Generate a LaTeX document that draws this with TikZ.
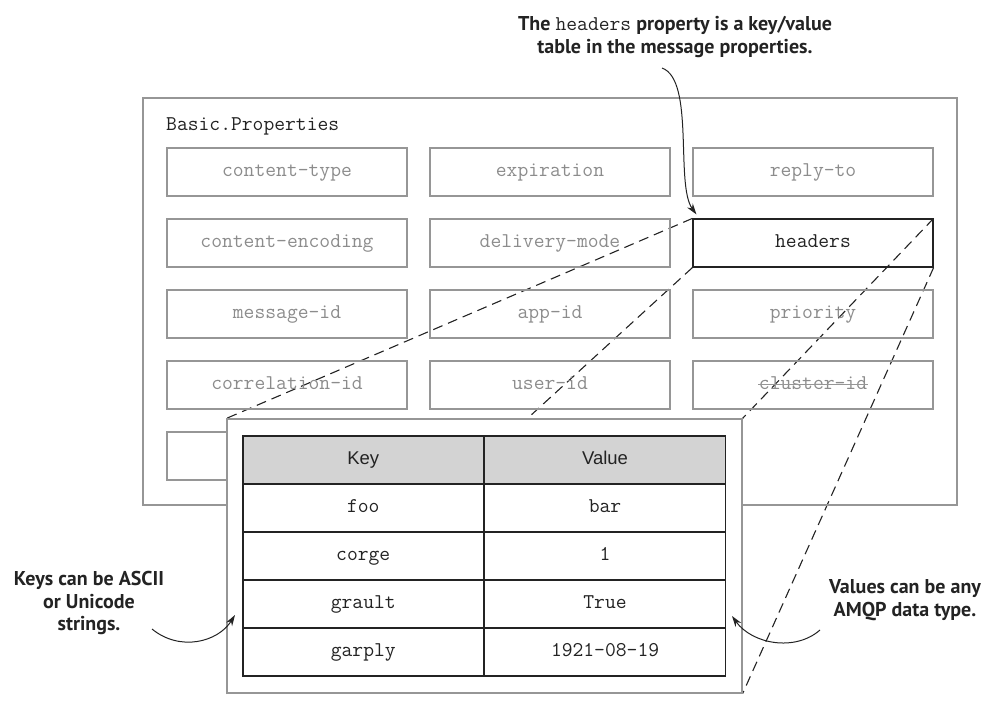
\documentclass[tikz,border=0pt]{standalone}
\usepackage{fontspec}
\usepackage{tikz}
\usepackage{xcolor}
\usetikzlibrary{arrows.meta,backgrounds}
\setmainfont{PT Sans}
\newfontfamily\tablesans{Liberation Sans}
\definecolor{boxgray}{RGB}{150,150,150}
\definecolor{textgray}{RGB}{140,140,140}
\definecolor{headfill}{RGB}{211,211,211}
\definecolor{ink}{RGB}{35,35,35}

\begin{document}
\begin{tikzpicture}[x=1pt,y=-1pt,
  prop/.style={draw=boxgray, line width=1.2pt, minimum width=240pt, minimum height=48pt, inner sep=0pt,
    text height=13pt, text depth=4pt, font=\fontsize{21}{22}\selectfont\ttfamily, text=textgray},
  propon/.style={prop, draw=ink, text=ink},
  cellbox/.style={draw=ink, line width=1.3pt, minimum width=240.5pt, minimum height=48pt, inner sep=0pt,
    text height=13pt, text depth=4pt, font=\fontsize{21}{22}\selectfont\ttfamily, text=ink},
  headbox/.style={cellbox, fill=headfill, font=\fontsize{18.5}{20}\selectfont\tablesans},
  note/.style={font=\fontsize{20}{22.5}\selectfont\bfseries, text=ink, align=center},
  notearrow/.style={draw=ink, line width=1pt, -{Stealth[length=11pt,width=7pt]}},
  zoomline/.style={draw=ink, line width=1.1pt, dash pattern=on 10pt off 6pt}]

  \useasboundingbox (0,0) rectangle (1006,706);

  \node[draw=boxgray, line width=1.2pt, minimum width=814pt, minimum height=407pt, inner sep=0pt] (basic) at (550,301.5) {};
  \node[anchor=base west, font=\fontsize{21}{22}\selectfont\ttfamily, text=ink, inner sep=0pt] (title) at (166,131) {Basic.Properties};

  \foreach \row/\col/\txt in {1/1/content-type, 1/2/expiration, 1/3/reply-to,
    2/1/content-encoding, 2/2/delivery-mode,
    3/1/message-id, 3/2/app-id, 3/3/priority,
    4/1/correlation-id, 4/2/user-id, 4/3/{}}{
  \node[prop] (p\row\col) at ({287+263*(\col-1)},{172+71*(\row-1)}) {\txt}; }
  \node[propon] (p23) at (813,243) {headers};
  \node[prop] (p51) at (287,456) {};
  % struck out property
  \node[prop, draw=none, minimum width=0pt, minimum height=0pt] (gone) at (p43) {cluster-id};
  \draw[boxgray, line width=1.2pt] ([yshift=5pt]gone.base west) -- ([yshift=5pt]gone.base east);

  % zoomed headers table
  \node[draw=boxgray, fill=white, line width=1.2pt, minimum width=515pt, minimum height=274pt, inner sep=0pt] (zoom) at (484.5,556) {};
  \node[headbox] (k0) at (363.25,460) {Key};
  \node[headbox, anchor=west] (v0) at (k0.east) {Value};
  \foreach \r/\k/\v in {1/foo/bar, 2/corge/1, 3/grault/True, 4/garply/1921-08-19}{
  \node[cellbox] (k\r) at (363.25,{460+48*\r}) {\k};
  \node[cellbox, anchor=west] (v\r) at (k\r.east) {\v}; }

  \begin{scope}[on background layer]
    \foreach \corner in {north west, north east, south east, south west}
      \draw[zoomline] (p23.\corner) -- (zoom.\corner);
  \end{scope}

  % notes
  \node[note] (hdrnote) at (675,37) {The {\mdseries\fontsize{21}{22.5}\selectfont\ttfamily headers} property is a key/value\\table in the message properties.};
  \node[note] (keynote) at (89,603) {Keys can be ASCII\\or Unicode\\strings.};
  \node[note] (valnote) at (905,600) {Values can be any\\AMQP data type.};

  \coordinate (hdrfrom) at (662,68);
  \coordinate (keyfrom) at (152,629);
  \coordinate (keyto) at (235,615);
  \coordinate (valfrom) at (820,630);
  \coordinate (valto) at (732,616);

  \draw[notearrow] (hdrfrom) .. controls (695,80) and (675,185) .. ([xshift=4pt,yshift=4pt]p23.north west);
  \draw[notearrow] (keyfrom) .. controls (180,652) and (218,642) .. (keyto);
  \draw[notearrow] (valfrom) .. controls (795,652) and (752,644) .. (valto);

\end{tikzpicture}
\end{document}
